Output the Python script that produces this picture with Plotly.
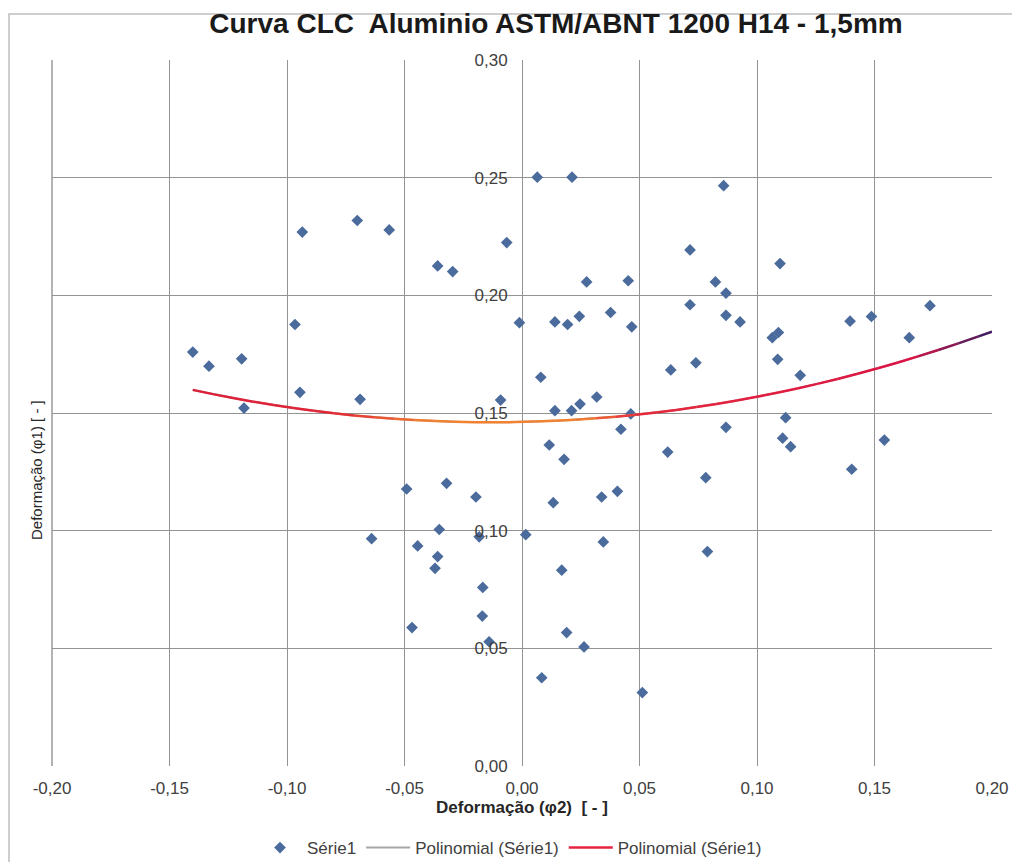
import numpy as np
import plotly.graph_objects as go

# Data (phi2, phi1)
phi2 = [-0.1401, -0.1332, -0.1193, -0.1183, -0.0966, -0.0945, -0.0935, -0.0701, -0.0689, -0.0640,
        -0.0565, -0.0491, -0.0468, -0.0444, -0.0359, -0.0359, -0.0370, -0.0352, -0.0321, -0.0295,
        -0.0196, -0.0182, -0.0167, -0.0169, -0.0140, -0.0091, -0.0065, -0.0011, 0.0016, 0.0065,
        0.0080, 0.0084, 0.0116, 0.0133, 0.0140, 0.0140, 0.0169, 0.0179, 0.0190, 0.0194,
        0.0211, 0.0213, 0.0244, 0.0247, 0.0264, 0.0275, 0.0318, 0.0339, 0.0346, 0.0377,
        0.0406, 0.0421, 0.0452, 0.0463, 0.0467, 0.0512, 0.0620, 0.0633, 0.0715, 0.0715,
        0.0740, 0.0782, 0.0789, 0.0823, 0.0858, 0.0868, 0.0868, 0.0868, 0.0928, 0.1065,
        0.1091, 0.1088, 0.1098, 0.1109, 0.1122, 0.1143, 0.1184, 0.1396, 0.1403, 0.1487,
        0.1542, 0.1648, 0.1736]
phi1 = [0.1759, 0.1699, 0.1730, 0.1521, 0.1876, 0.1588, 0.2269, 0.2318, 0.1558, 0.0966,
        0.2278, 0.1177, 0.0588, 0.0935, 0.2125, 0.0890, 0.0840, 0.1005, 0.1201, 0.2101,
        0.1143, 0.0974, 0.0759, 0.0637, 0.0528, 0.1555, 0.2224, 0.1884, 0.0983, 0.2502,
        0.1652, 0.0375, 0.1364, 0.1119, 0.1887, 0.1510, 0.0832, 0.1303, 0.0567, 0.1876,
        0.1510, 0.2502, 0.1911, 0.1538, 0.0506, 0.2057, 0.1568, 0.1143, 0.0952, 0.1927,
        0.1167, 0.1431, 0.2062, 0.1496, 0.1866, 0.0312, 0.1334, 0.1683, 0.2193, 0.1960,
        0.1713, 0.1225, 0.0911, 0.2057, 0.2466, 0.2009, 0.1915, 0.1439, 0.1887, 0.1820,
        0.1842, 0.1728, 0.2135, 0.1393, 0.1480, 0.1357, 0.1660, 0.1890, 0.1261, 0.1910,
        0.1385, 0.1820, 0.1956]

x_ticks = [-0.20, -0.15, -0.10, -0.05, 0.00, 0.05, 0.10, 0.15, 0.20]
x_tick_labels = ["-0,20", "-0,15", "-0,10", "-0,05", "0,00", "0,05", "0,10", "0,15", "0,20"]
y_ticks = [0.00, 0.05, 0.10, 0.15, 0.20, 0.25, 0.30]
y_tick_labels = ["0,00", "0,05", "0,10", "0,15", "0,20", "0,25", "0,30"]

# Polynomial trendline (order 2) coefficients
trend_coef = [0.850, 0.0219, 0.1462]   # a*x^2 + b*x + c
trend_end = 0.20                       # forward forecast of the trendline

# The page body has an 8px margin, so the figure is laid out 8px in from the
# window's top-left corner; all window positions below are shifted by OFF.
OFF = 8
W, H = 1020 - OFF, 862 - OFF
L, R, T, B = 52 - OFF, 1020 - 992, 60 - OFF, 862 - 766
pw, ph = W - L - R, H - T - B

def px2paper_x(px):          # window pixel -> paper x
    return (px - OFF - L) / pw

def py2paper_y(py):          # window pixel -> paper y
    return (H - B - (py - OFF)) / ph

xs = np.linspace(min(phi2), trend_end, 120)
ys = np.polyval(trend_coef, xs)

fig = go.Figure()

fig.add_trace(go.Scatter(
    x=phi2, y=phi1, mode="markers", name="Série1",
    marker=dict(symbol="diamond", size=9, color="#4A6B9C"),
))

# gray polynomial trendline (underneath)
fig.add_trace(go.Scatter(
    x=xs, y=ys, mode="lines", name="Polinomial (Série1)",
    line=dict(color="#A6A6A6", width=2),
))

# coloured trendline drawn in short segments to mimic the gradient
stops = [(-0.14, (222, 30, 60)), (-0.08, (226, 40, 55)), (-0.04, (240, 130, 50)),
         (0.025, (240, 130, 50)), (0.05, (232, 40, 60)), (0.165, (220, 20, 70)),
         (0.20, (55, 30, 100))]

def col_at(v):
    for (a, ca), (b, cb) in zip(stops[:-1], stops[1:]):
        if v <= b:
            t = 0 if b == a else max(0, min(1, (v - a) / (b - a)))
            c = [int(ca[i] + (cb[i] - ca[i]) * t) for i in range(3)]
            return "rgb(%d,%d,%d)" % tuple(c)
    return "rgb(%d,%d,%d)" % stops[-1][1]

step = 3
for i in range(0, len(xs) - 1, step):
    j = min(i + step, len(xs) - 1)
    fig.add_trace(go.Scatter(
        x=xs[i:j + 1], y=ys[i:j + 1], mode="lines",
        line=dict(color=col_at((xs[i] + xs[j]) / 2), width=2.5),
        showlegend=False, hoverinfo="skip",
    ))

# legend entry for red trendline
fig.add_trace(go.Scatter(
    x=[None], y=[None], mode="lines", name="Polinomial (Série1)",
    line=dict(color="#E8233F", width=2.5),
))

FONT = "Liberation Sans, Arial, sans-serif"
tick_font = dict(family=FONT, size=17, color="#404040")
GRID = "#939393"

fig.update_layout(
    width=W, height=H,
    margin=dict(l=L, r=R, t=T, b=B, autoexpand=False),
    paper_bgcolor="white", plot_bgcolor="white",
    title=dict(
        text="<b>Curva CLC  Aluminio ASTM/ABNT 1200 H14 - 1,5mm</b>",
        x=(556 - OFF) / W, xanchor="center", y=1 - (23 - OFF) / H, yanchor="middle",
        font=dict(family=FONT, size=28, color="#1a1a1a"),
    ),
    xaxis=dict(
        range=[-0.20, 0.20], tickvals=x_ticks, ticktext=x_tick_labels,
        showgrid=True, gridcolor=GRID, gridwidth=1.4, zeroline=False,
        showline=False, ticks="outside", ticklen=7, tickcolor="rgba(0,0,0,0)",
        tickfont=tick_font, automargin=False,
        title=dict(text="<b>Deformação (φ2)  [ - ]</b>",
                   font=dict(family=FONT, size=17, color="#262626"),
                   standoff=3),
    ),
    yaxis=dict(
        range=[0, 0.30], tickvals=y_ticks, ticktext=y_tick_labels,
        showgrid=True, gridcolor=GRID, gridwidth=1.4, zeroline=False,
        showline=False, ticks="outside", ticklen=11, tickcolor="rgba(0,0,0,0)",
        tickfont=tick_font, automargin=False,
        anchor="free", position=0.5,
    ),
    legend=dict(
        orientation="h", x=px2paper_x(510), xanchor="center",
        y=py2paper_y(848), yanchor="middle",
        font=dict(family=FONT, size=17, color="#404040"),
        bgcolor="rgba(0,0,0,0)", itemwidth=44,
    ),
    showlegend=True,
)

# left plot edge line
fig.add_shape(type="line", xref="paper", yref="paper", x0=0, x1=0, y0=0, y1=1,
              line=dict(color=GRID, width=1.4))

# outer chart-area frame
fig.add_shape(type="rect", xref="paper", yref="paper",
              x0=px2paper_x(9), x1=px2paper_x(1013), y0=py2paper_y(875), y1=py2paper_y(14),
              line=dict(color="#BFBFBF", width=1.5), fillcolor="rgba(0,0,0,0)", layer="below")

# y-axis title
fig.add_annotation(
    text="Deformação (φ1) [ - ]", textangle=-90,
    xref="paper", yref="paper", x=px2paper_x(37), y=py2paper_y(470),
    xanchor="center", yanchor="middle", showarrow=False,
    font=dict(family=FONT, size=15, color="#262626"),
)

fig.write_html("out.html")
